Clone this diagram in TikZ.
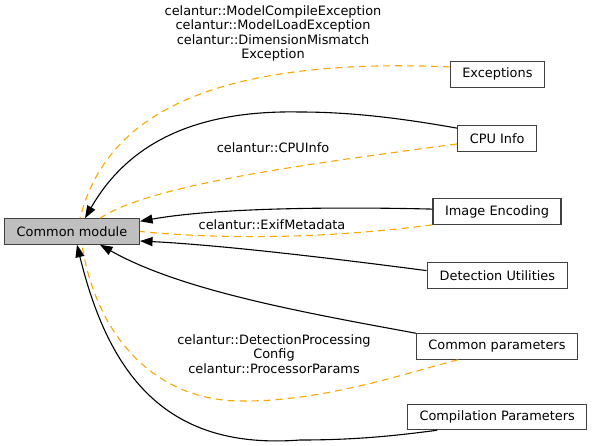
\documentclass[tikz,border=0pt]{standalone}
\usepackage{fontspec}
\setmainfont{DejaVu Sans}
\usetikzlibrary{arrows.meta}
\definecolor{grpline}{HTML}{404040}
\definecolor{curfill}{HTML}{BFBFBF}
\definecolor{memline}{HTML}{FFA500}

\begin{document}
\begin{tikzpicture}[x=1pt,y=-1pt,
  font=\fontsize{12.9}{14.6}\selectfont,
  grp/.style={draw=grpline,line width=1.1pt,minimum height=25.4pt,inner xsep=0pt},
  cur/.style={grp,fill=curfill},
  dep/.style={black,line width=1.1pt,-{Triangle[length=12.5pt,width=9pt]}},
  mem/.style={memline,line width=1.1pt,dash pattern=on 7pt off 5pt},
  lbl/.style={align=center,inner sep=0pt}]
\useasboundingbox (0,0) rectangle (592,445);
% groups
\node[cur,minimum width=135pt] (common) at (72,231.5) {Common module};
\node[grp,minimum width=93.3pt] (exc) at (497.4,74.4) {Exceptions};
\node[grp,minimum width=79pt] (cpu) at (497.2,138.4) {CPU Info};
\node[grp,minimum width=128pt] (image) at (497,211.6) {Image Encoding};
\node[grp,minimum width=140.7pt] (detect) at (497.4,275.6) {Detection Utilities};
\node[grp,minimum width=160.6pt] (params) at (497,346.5) {Common parameters};
\node[grp,minimum width=179pt] (compile) at (497.2,417) {Compilation Parameters};
% solid edges into the common module
\draw[dep] ([yshift=-3pt]cpu.north west) .. controls (400,118) and (350,112) .. (300,112)
  .. controls (200,110) and (130,140) .. ([xshift=13pt]common.north);
\draw[dep] ([yshift=2.5pt]image.west) .. controls (350,207) and (220,207) .. ([yshift=-3pt]common.north east);
\draw[dep] ([yshift=5pt]detect.west) .. controls (330,258) and (220,245) .. ([yshift=-9.5pt]common.east);
\draw[dep] (params.north west) .. controls (300,312) and (180,290) .. ([xshift=28pt]common.south);
\draw[dep] ([xshift=-60pt]compile.south) .. controls (400,435) and (360,440) .. (300,440)
  .. controls (170,450) and (110,380) .. ([xshift=5pt]common.south);
% dashed member edges
\draw[mem] ([yshift=7.5pt]exc.west) .. controls (170,55) and (100,140) .. ([xshift=8pt]common.north);
\draw[mem] ([yshift=-5.5pt]cpu.west) .. controls (300,165) and (150,185) .. ([xshift=28pt]common.north);
\draw[mem] (image.south west) .. controls (330,238) and (230,240) .. (common.east);
\draw[mem] ([xshift=-39pt]params.south) .. controls (400,375) and (320,402) .. (240,401)
  .. controls (150,400) and (95,330) .. ([xshift=10pt]common.south);
% labels
\node[lbl] (lexc) at (273,33.4) {celantur::ModelCompileException\\celantur::ModelLoadException\\celantur::DimensionMismatch\\Exception};
\node[lbl] (lcpu) at (273,147.3) {celantur::CPUInfo};
\node[lbl] (limage) at (272,225) {celantur::ExifMetadata};
\node[lbl] (lparams) at (274,354) {celantur::DetectionProcessing\\Config\\celantur::ProcessorParams};
\end{tikzpicture}
\end{document}
